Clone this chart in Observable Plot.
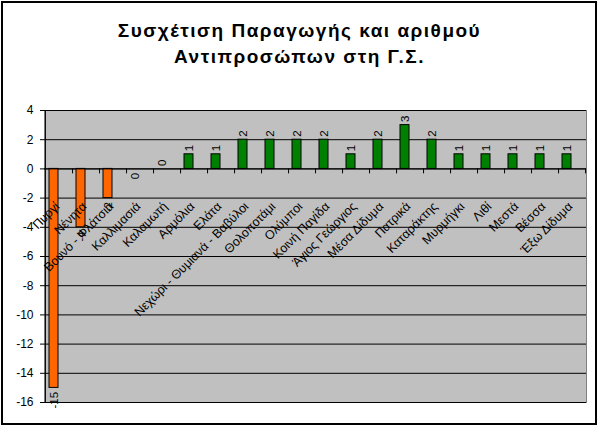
<!DOCTYPE html>
<html>
<head>
<meta charset="utf-8">
<script src="https://cdn.jsdelivr.net/npm/d3@7"></script>
<script src="https://cdn.jsdelivr.net/npm/@observablehq/plot@0.6"></script>
<style>
  html, body { margin: 0; padding: 0; background: #fff; }
  #wrap { position: relative; width: 599px; height: 427px; overflow: hidden; font-family: "Liberation Sans", Arial, sans-serif; }
  #border { position: absolute; left: 1px; top: 1px; width: 596px; height: 424px; border: 2px solid #000; box-sizing: border-box; }
  #title { position: absolute; left: 0; top: 18px; width: 599px; text-align: center; font-weight: bold; font-size: 19px; letter-spacing: 1.5px; line-height: 26px; color: #000; }
  #chart { position: absolute; left: 0; top: 90px; }
</style>
</head>
<body>
<div id="wrap">
  <div id="border"></div>
  <div id="title">Συσχέτιση Παραγωγής και αριθμού<br>Αντιπροσώπων στη Γ.Σ.</div>
  <div id="chart"></div>
</div>
<script>
const categories = ["Πυργί", "Νένητα", "Βουνό - Φλάτσια", "Καλλιμασιά", "Καλαμωτή", "Αρμόλια", "Ελάτα",
  "Νεχώρι - Θυμιανά - Βαβύλοι", "Θολοποτάμι", "Ολύμποι", "Κοινή Παγίδα", "Άγιος Γεώργιος", "Μέσα Δίδυμα",
  "Πατρικά", "Καταράκτης", "Μυρμήγκι", "Λιθί", "Μεστά", "Βέσσα", "Έξω Δίδυμα"];
const values = [-15, -4, -2, -0, 0, 1, 1, 2, 2, 2, 2, 1, 2, 3, 2, 1, 1, 1, 1, 1];
const yTicks = [-16, -14, -12, -10, -8, -6, -4, -2, 0, 2, 4];

const data = categories.map((name, i) => ({name, value: values[i]}));
const isNeg = d => d.value < 0 || Object.is(d.value, -0);

const W = 599, H = 337, ML = 44, MR = 13, MT = 20, MB = 25;
const half = (W - ML - MR) / categories.length / 2;

const chart = Plot.plot({
  width: W, height: H,
  marginLeft: ML, marginRight: MR, marginTop: MT, marginBottom: MB,
  style: {fontFamily: "'Liberation Sans', Arial, sans-serif", background: "transparent", color: "#000", overflow: "visible"},
  x: {type: "band", domain: categories, padding: 0, axis: null},
  y: {domain: [-16, 4], label: null},
  marks: [
    Plot.frame({fill: "#C0C0C0", stroke: "#808080"}),
    Plot.gridY(yTicks, {stroke: "#000", strokeOpacity: 1}),
    Plot.ruleX([categories[0]], {dx: -half, stroke: "#000"}),
    Plot.ruleX(categories, {x: d => d, y1: 0, y2: -0.34, dx: half, stroke: "#000"}),
    Plot.barY(data, {
      x: "name", y: "value",
      fill: d => d.value < 0 ? "#FF6600" : (Object.is(d.value, -0) ? "#9999FF" : "#008000"),
      stroke: "#000", strokeWidth: 1, insetLeft: 4, insetRight: 14
    }),
    Plot.ruleY([0], {stroke: "#000"}),
    Plot.text(data, {
      x: "name", y: () => 0, text: "name", rotate: -45, textAnchor: "end", lineAnchor: "top",
      dx: -5, dy: 32, fontSize: 12.5, fill: "#000"
    }),
    Plot.text(data.filter(d => !isNeg(d)), {
      x: "name", y: "value", text: d => String(d.value), rotate: -90, textAnchor: "start",
      dx: -5, dy: -3, fontSize: 11.5, fill: "#000"
    }),
    Plot.text(data.filter(isNeg), {
      x: "name", y: "value", text: d => String(d.value), rotate: -90, textAnchor: "end",
      dx: -5, dy: 4, fontSize: 11.5, fill: "#000"
    }),
    Plot.axisY({ticks: yTicks, tickSize: 4, tickPadding: 7, fontSize: 12, label: null, tickFormat: d => String(d)})
  ]
});
document.getElementById("chart").appendChild(chart);
</script>
</body>
</html>
